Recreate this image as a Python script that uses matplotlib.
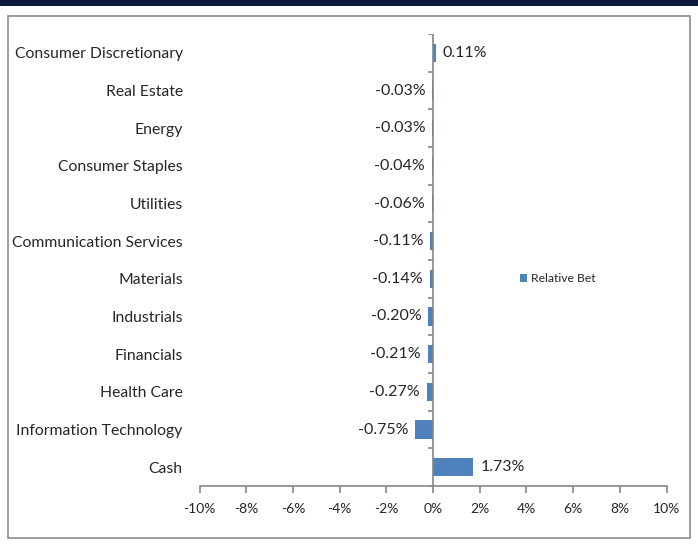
import matplotlib
matplotlib.use('Agg')
import matplotlib.pyplot as plt
import matplotlib.patches as mpatches
import numpy as np

plt.rcParams['font.family'] = ['Lato', 'DejaVu Sans']

# data (top to bottom)
sectors = ['Consumer Discretionary', 'Real Estate', 'Energy', 'Consumer Staples',
           'Utilities', 'Communication Services', 'Materials', 'Industrials',
           'Financials', 'Health Care', 'Information Technology', 'Cash']
relative_bet = [0.11, -0.03, -0.03, -0.04, -0.06, -0.11, -0.14, -0.20,
                -0.21, -0.27, -0.75, 1.73]
xticks = list(range(-10, 11, 2))

bar_color = '#4F81BD'
axis_color = '#868686'
text_color = '#262626'

fig = plt.figure(figsize=(6.98, 5.47), dpi=100)

# dark band at top and outer chart frame
fig.patches.append(mpatches.Rectangle((0, 1 - 6 / 547), 1, 6 / 547, transform=fig.transFigure,
                                      facecolor='#0b1a3a', edgecolor='none'))
fig.patches.append(mpatches.Rectangle((8 / 698, 9 / 547), 682 / 698, 522 / 547, transform=fig.transFigure,
                                      facecolor='none', edgecolor='#8c8c8c', linewidth=1.2))

ax = fig.add_axes([199.5 / 698, 61 / 547, 467 / 698, 452 / 547])
n = len(sectors)
y = np.arange(n)
ax.barh(y, relative_bet, height=0.48, color=bar_color, label='Relative Bet')
ax.set_ylim(n - 0.5, -0.5)
ax.set_xlim(-10, 10)

# value labels
for yi, v in zip(y, relative_bet):
    if v >= 0:
        ax.text(v + 0.3, yi, f'{v:.2f}%', va='center', ha='left', fontsize=11.5, color=text_color)
    else:
        ax.text(v - 0.3, yi, f'{v:.2f}%', va='center', ha='right', fontsize=11.5, color=text_color)

# category labels on the left, no ticks
ax.set_yticks(y)
ax.set_yticklabels(sectors, fontsize=11.3, color=text_color)
ax.tick_params(axis='y', length=0, pad=12)

# vertical axis at zero with ticks between categories
ax.axvline(0, color=axis_color, linewidth=1.2)
bounds = np.arange(-0.5, n, 1.0)
ax.hlines(bounds, -0.22, 0, color=axis_color, linewidth=1.2)

ax.set_xticks(xticks)
ax.set_xticklabels([f'{t}%' for t in xticks], fontsize=10, color=text_color)
ax.tick_params(axis='x', length=5, color=axis_color, width=1.2, pad=7)

for s in ['top', 'right', 'left']:
    ax.spines[s].set_visible(False)
ax.spines['bottom'].set_color(axis_color)
ax.spines['bottom'].set_linewidth(1.2)

fig.legend(loc='center left', bbox_to_anchor=(509 / 698, 1 - 279 / 547), frameon=False,
           handlelength=0.6, handleheight=0.6, handletextpad=0.3, fontsize=8.7,
           labelcolor=text_color)

fig.savefig('out.png', dpi=100)
